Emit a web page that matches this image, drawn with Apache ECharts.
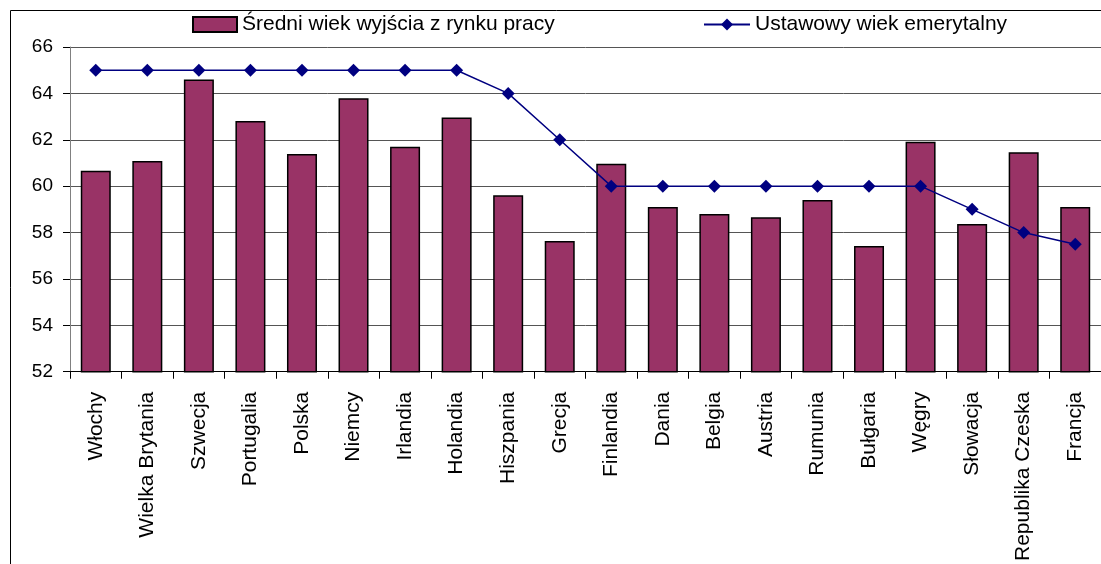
<!DOCTYPE html>
<html><head><meta charset="utf-8">
<script src="https://cdn.jsdelivr.net/npm/echarts@6/dist/echarts.min.js"></script>
<style>html,body{margin:0;padding:0;background:#fff}#c{width:1101px;height:564px}</style>
</head><body><div id="c"></div>
<script>
const categories = ['Włochy','Wielka Brytania','Szwecja','Portugalia','Polska','Niemcy','Irlandia','Holandia','Hiszpania','Grecja','Finlandia','Dania','Belgia','Austria','Rumunia','Bułgaria','Węgry','Słowacja','Republika Czeska','Francja'];
const exitAge = [60.66,61.09,64.6,62.81,61.39,63.79,61.7,62.96,59.61,57.64,60.97,59.1,58.8,58.66,59.4,57.42,61.91,58.37,61.46,59.1];
const legalAge = [65,65,65,65,65,65,65,65,64,62,60,60,60,60,60,60,60,59,58,57.5];
const seriesNames = ['Średni wiek wyjścia z rynku pracy','Ustawowy wiek emerytalny'];
const yTicks = {min:52, max:66, interval:2};

const chart = echarts.init(document.getElementById('c'), null, {renderer:'canvas'});
const font = '"Liberation Sans", Arial, sans-serif';
chart.setOption({
  animation:false,
  textStyle:{fontFamily:font},
  graphic:[{type:'rect', shape:{x:10.5,y:10.5,width:1300,height:800}, style:{fill:'none',stroke:'#000',lineWidth:1}, z:-1}],
  legend:[
    {data:[{name:seriesNames[0], icon:'rect'}], left:187, top:9, itemWidth:44, itemHeight:15, itemGap:6,
     textStyle:{fontFamily:font,fontSize:21,color:'#000'}},
    {data:[seriesNames[1]], left:698, top:9, itemWidth:46, itemHeight:15, itemGap:5,
     textStyle:{fontFamily:font,fontSize:21,color:'#000'}}
  ],
  grid:{left:70, right:-9, top:47, bottom:190, containLabel:false},
  xAxis:{type:'category', data:categories, boundaryGap:true,
    axisLine:{lineStyle:{color:'#000',width:1}},
    axisTick:{show:true, alignWithLabel:false, length:7, lineStyle:{color:'#000'}},
    axisLabel:{rotate:90, interval:0, margin:20, fontSize:21, color:'#000', fontFamily:font}},
  yAxis:{type:'value', min:yTicks.min, max:yTicks.max, interval:yTicks.interval,
    axisLine:{show:true, lineStyle:{color:'#808080'}},
    axisTick:{show:true, length:7, lineStyle:{color:'#000'}},
    axisLabel:{margin:17, fontSize:19, color:'#000', fontFamily:font},
    splitLine:{show:true, lineStyle:{color:'#555', width:1}}},
  series:[
    {name:seriesNames[0], type:'bar', data:exitAge, barWidth:30,
     itemStyle:{color:'#993366', borderColor:'#000', borderWidth:1.5}},
    {name:seriesNames[1], type:'line', data:legalAge, symbol:'diamond', symbolSize:13,
     lineStyle:{color:'#000080', width:1.5}, itemStyle:{color:'#000080'}}
  ]
});
</script></body></html>
